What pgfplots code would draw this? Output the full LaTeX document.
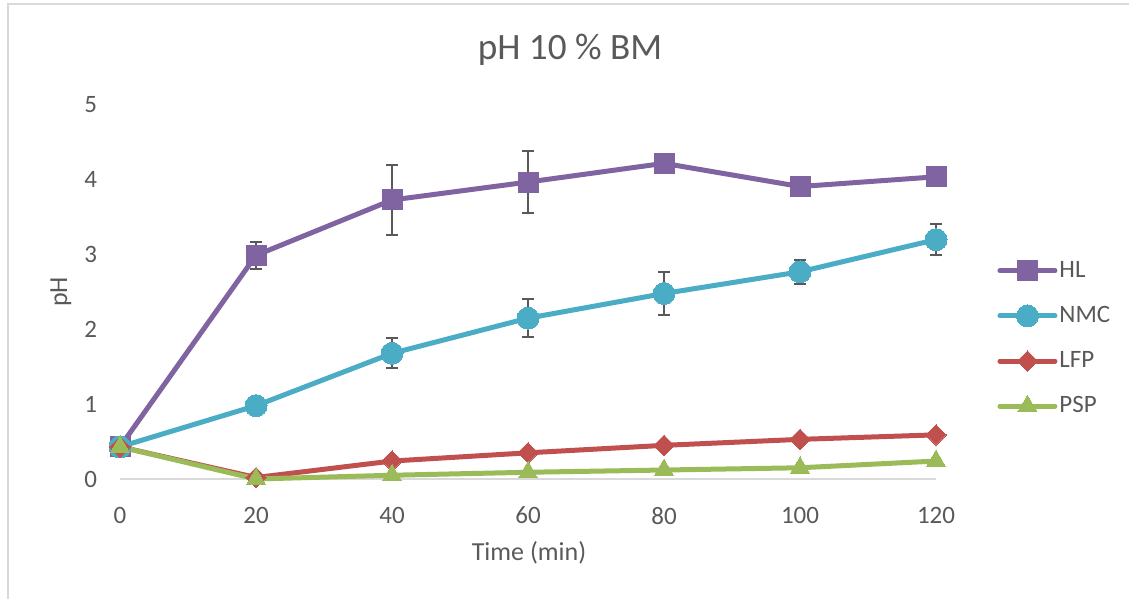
\documentclass[border=0pt]{standalone}
\usepackage{pgfplots}
\pgfplotsset{compat=1.18}
\usepackage{fontspec}
\setmainfont{Carlito}
\definecolor{hl}{HTML}{8064A2}
\definecolor{nmc}{HTML}{4BACC6}
\definecolor{lfp}{HTML}{C0504D}
\definecolor{psp}{HTML}{9BBB59}
\definecolor{txt}{HTML}{595959}
\definecolor{bord}{HTML}{D9D9D9}
\begin{document}
\begin{tikzpicture}[x=0.5pt,y=0.5pt]
\path[use as bounding box] (0,0) rectangle (1129,599);
\draw[bord, line width=1pt] (8,0) -- (8,595) -- (1129,595);
\node[text=txt, font=\fontsize{18.6}{22}\selectfont] at (570,549) {pH 10 \% BM};
\node[text=txt, font=\fontsize{13}{15}\selectfont] at (529,46) {Time (min)};
\node[text=txt, font=\fontsize{13}{15}\selectfont, rotate=90] at (61,307) {pH};
\begin{axis}[
  at={(60pt,60pt)}, anchor=south west,
  scale only axis, width=408pt, height=187pt,
  xmin=0, xmax=120, ymin=0, ymax=5,
  xtick={0,20,...,120}, ytick={0,1,2,3,4,5},
  axis line style={draw=none}, major tick length=0pt,
  clip=false,
  /pgf/number format/assume math mode=true,
  tick label style={font=\fontsize{12.5}{15}\selectfont, text=txt},
  yticklabel style={xshift=-8pt},
  xticklabel style={yshift=-10.5pt},
  legend cell align=left,
  legend style={draw=none, fill=none, at={(1.0748,0.3757)}, anchor=west,
    font=\fontsize{12.5}{15}\selectfont, text=txt, row sep=9pt, inner sep=0pt,
    /tikz/every odd column/.append style={column sep=-1pt}},
  legend image code/.code={\draw[mark repeat=2,mark phase=2] plot coordinates {(0pt,0pt) (13.75pt,0pt) (27.5pt,0pt)};},
  every axis plot/.append style={line width=2.5pt, line cap=round, line join=round},
  error bars/error bar style={txt, line width=1pt},
  error bars/error mark options={rotate=90, mark size=2.8pt, line width=1pt, txt},
]
\draw[bord, line width=1pt] (axis cs:0,0) -- (axis cs:120,0);
\addplot[hl, mark=square*, mark size=5pt, mark options={solid, line width=0pt},
  error bars/.cd, y dir=both, y explicit] coordinates {
  (0,0.43) +- (0,0)
  (20,2.99) +- (0,0.18)
  (40,3.73) +- (0,0.47)
  (60,3.97) +- (0,0.42)
  (80,4.22) +- (0,0)
  (100,3.91) +- (0,0)
  (120,4.04) +- (0,0)
};
\addlegendentry{HL}
\addplot[nmc, mark=*, mark size=5.5pt, mark options={solid, line width=0pt},
  error bars/.cd, y dir=both, y explicit] coordinates {
  (0,0.43) +- (0,0)
  (20,0.98) +- (0,0)
  (40,1.68) +- (0,0.20)
  (60,2.15) +- (0,0.25)
  (80,2.48) +- (0,0.29)
  (100,2.77) +- (0,0.16)
  (120,3.20) +- (0,0.21)
};
\addlegendentry{NMC}
\addplot[lfp, mark=square*, mark size=3.6pt, mark options={solid, rotate=45, line width=0pt}] coordinates {
  (0,0.43) (20,0.02) (40,0.24) (60,0.35) (80,0.45) (100,0.53) (120,0.59)
};
\addlegendentry{LFP}
\addplot[psp, mark=triangle*, mark size=5.5pt, mark options={solid, line width=0pt}] coordinates {
  (0,0.43) (20,0.00) (40,0.05) (60,0.09) (80,0.12) (100,0.15) (120,0.24)
};
\addlegendentry{PSP}
\end{axis}
\end{tikzpicture}
\end{document}
